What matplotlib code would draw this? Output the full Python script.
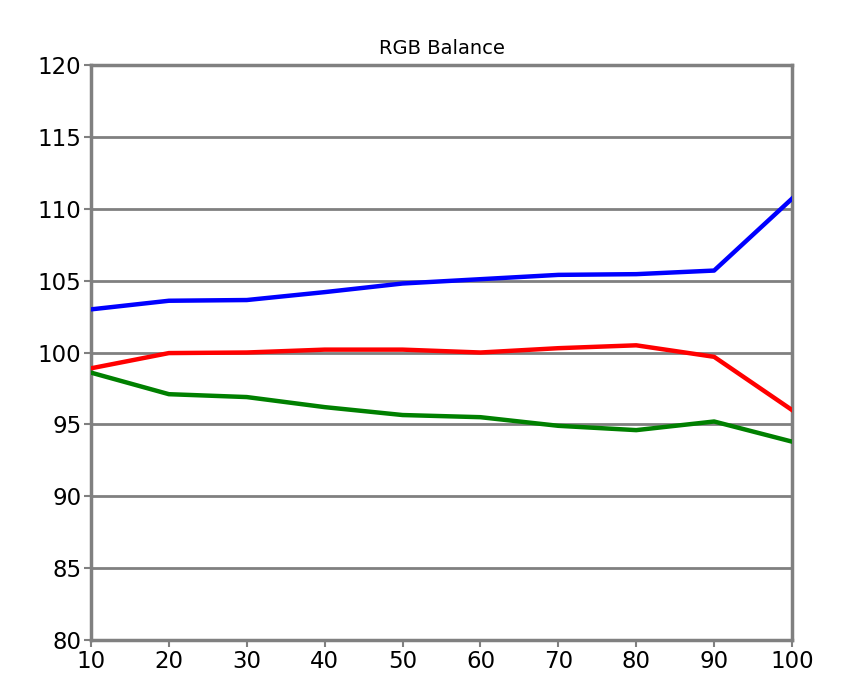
import matplotlib
matplotlib.use("Agg")
import matplotlib.pyplot as plt

x = [10, 20, 30, 40, 50, 60, 70, 80, 90, 100]
blue = [103.0, 103.6, 103.65, 104.2, 104.8, 105.1, 105.4, 105.45, 105.7, 110.7]
red = [98.9, 99.96, 100.0, 100.2, 100.2, 100.0, 100.3, 100.5, 99.7, 96.0]
green = [98.6, 97.1, 96.9, 96.2, 95.65, 95.5, 94.9, 94.6, 95.2, 93.8]
yticks = [80, 85, 90, 95, 100, 105, 110, 115, 120]

fig = plt.figure(figsize=(8.41, 6.96), dpi=100)
ax = fig.add_axes([91/841, 56/696, 701/841, 575/696])
ax.plot(x, blue, color="#0000ff", lw=3.2, zorder=3)
ax.plot(x, red, color="#ff0000", lw=3.2, zorder=3)
ax.plot(x, green, color="#008000", lw=3.2, zorder=3)
ax.set_xlim(10, 100)
ax.set_ylim(80, 120)
ax.set_xticks(x)
ax.set_yticks(yticks)
ax.grid(axis="y", color="#808080", lw=2)
for s in ax.spines.values():
    s.set_color("#808080"); s.set_linewidth(2.5)
ax.tick_params(labelsize=16.5, color="#808080", length=5, width=1.5, direction="out", pad=2)
ax.set_title("RGB Balance", fontsize=14, pad=8)
fig.savefig("out.png", dpi=100)
